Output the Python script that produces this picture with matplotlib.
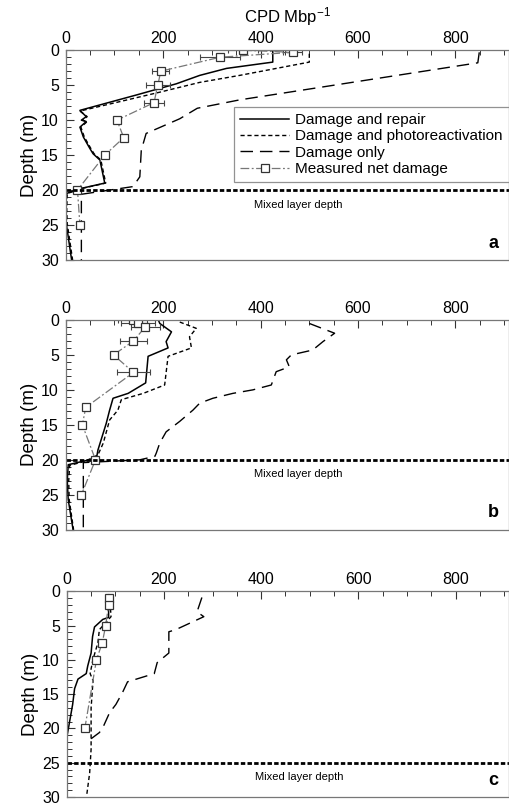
import numpy as np
import matplotlib.pyplot as plt
from matplotlib.ticker import MultipleLocator

plt.rcParams['font.family'] = ['Liberation Sans', 'DejaVu Sans']
plt.rcParams['mathtext.default'] = 'regular'

# ---- panel a ----
a_repair_depth = [0, 1.7, 2.6, 3.6, 4.8, 6.4, 8.6, 9.5, 10.0, 10.2, 11.0, 12.4, 14.0, 14.8, 15.7, 19.0, 19.8, 20.5, 22.8, 24.8, 30]
a_repair_cpd = [425, 425, 330, 275, 227, 145, 29, 42, 32, 42, 29, 36, 49, 56, 70, 80, 29, 1, 0, 1, 12]
a_photo_depth = [0.5, 1.7, 3.6, 4.6, 6.0, 8.7, 9.5, 10.0, 10.2, 11.0, 12.4, 14.0, 14.8, 15.7, 19.0, 19.8, 20.5, 22.8, 24.8, 30]
a_photo_cpd = [500, 500, 357, 275, 193, 29, 44, 34, 44, 31, 38, 51, 58, 72, 82, 31, 3, 2, 3, 14]
a_only_depth = [0.3, 1.8, 4.9, 7.1, 8.3, 9.8, 11.9, 14.3, 18.1, 19.5, 20.0, 20.6, 30]
a_only_cpd = [849, 846, 560, 357, 270, 234, 165, 155, 152, 138, 90, 32, 32]
a_meas_depth = [0, 0.3, 1, 3, 5, 7.5, 10, 12.5, 15, 20, 25]
a_meas_cpd = [364, 466, 317, 195, 189, 181, 105, 119, 80, 24, 29]
a_meas_err = [30, 20, 41, 17, 24, 20, 0, 0, 0, 0, 0]

# ---- panel b ----
b_repair_depth = [0, 0.5, 1.7, 3.1, 4.0, 5.2, 9.0, 10.5, 11.2, 12.9, 14.8, 18.6, 19.8, 20.2, 20.7, 23.0, 25.7, 30]
b_repair_cpd = [190, 193, 217, 206, 210, 169, 164, 128, 97, 90, 83, 66, 63, 36, 5, 3, 5, 15]
b_photo_depth = [0.3, 1.2, 2.4, 4.0, 5.2, 9.3, 10.5, 11.4, 12.9, 14.3, 17.6, 19.3, 20.2, 20.8, 23.0, 25.7, 30]
b_photo_cpd = [234, 268, 254, 258, 210, 203, 159, 114, 107, 90, 77, 66, 40, 8, 6, 7, 16]
b_only_depth = [0.5, 1.9, 3.1, 4.3, 5.0, 5.7, 6.7, 7.4, 9.3, 10.0, 10.5, 11.2, 11.9, 12.9, 14.5, 16.0, 17.6, 19.0, 19.5, 20.0, 20.4, 30]
b_only_cpd = [500, 552, 528, 507, 463, 453, 459, 432, 422, 384, 343, 302, 275, 261, 234, 206, 193, 186, 183, 152, 36, 36]
b_meas_depth = [0, 0.5, 1, 3, 5, 7.5, 12.5, 15, 20, 25]
b_meas_cpd = [137, 148, 163, 139, 98, 139, 41, 34, 61, 32]
b_meas_err = [30, 35, 30, 27, 0, 33, 0, 0, 0, 0]

# ---- panel c ----
c_repair_depth = [0.5, 3.8, 4.1, 5.2, 6.6, 9.0, 10.9, 12.0, 12.8, 14.2, 16.5, 18.9, 21.3]
c_repair_cpd = [86, 86, 74, 57, 53, 50, 43, 40, 23, 16, 12, 6, 0]
c_photo_depth = [0.5, 3.7, 5.6, 7.5, 9.9, 12.0, 13.0, 17.0, 23.0, 26.5, 29.7]
c_photo_cpd = [88, 91, 67, 64, 54, 48, 54, 50, 50, 47, 41]
c_only_depth = [0.9, 3.0, 3.7, 5.6, 5.9, 9.0, 10.4, 12.0, 13.2, 14.7, 16.5, 17.7, 19.9, 20.6, 21.5]
c_only_cpd = [278, 268, 282, 224, 210, 210, 186, 180, 125, 115, 101, 88, 74, 67, 50]
c_meas_depth = [1, 2, 5, 7.5, 10, 20]
c_meas_cpd = [86, 86, 80, 73, 61, 37]
c_meas_err = [0, 0, 0, 0, 0, 0]

mixed_layer = [20, 20, 25]
panel_letters = ['a', 'b', 'c']

panels = [
    (a_repair_depth, a_repair_cpd, a_photo_depth, a_photo_cpd, a_only_depth, a_only_cpd,
     a_meas_depth, a_meas_cpd, a_meas_err),
    (b_repair_depth, b_repair_cpd, b_photo_depth, b_photo_cpd, b_only_depth, b_only_cpd,
     b_meas_depth, b_meas_cpd, b_meas_err),
    (c_repair_depth, c_repair_cpd, c_photo_depth, c_photo_cpd, c_only_depth, c_only_cpd,
     c_meas_depth, c_meas_cpd, c_meas_err),
]

fig = plt.figure(figsize=(5.1, 8.1), dpi=100)
# axes boxes in figure fractions (left, bottom, width, height)
boxes = [(0.129, 0.679, 0.869, 0.259),
         (0.129, 0.346, 0.869, 0.259),
         (0.131, 0.016, 0.867, 0.254)]

for k, (box, data) in enumerate(zip(boxes, panels)):
    rd, rv, pd, pv, od, ov, md, mv, me = data
    ax = fig.add_axes(box)

    ax.plot(rv, rd, color='black', lw=1.1, label='Damage and repair')
    ax.plot(pv, pd, color='black', lw=1.0, ls=(0, (3, 2)), label='Damage and photoreactivation')
    ax.plot(ov, od, color='black', lw=1.0, ls=(0, (9, 5)), label='Damage only')

    err = np.array(me, dtype=float)
    ax.errorbar(mv, md, xerr=np.where(err > 0, err, np.nan), fmt='none',
                ecolor='#444444', elinewidth=0.8, capsize=2.5, capthick=0.8)
    ax.plot(mv, md, color='#777777', lw=0.9, ls=(0, (7, 2, 1.5, 2)),
            marker='s', markersize=6, markerfacecolor='white',
            markeredgecolor='#333333', markeredgewidth=0.9,
            label='Measured net damage')

    ml = mixed_layer[k]
    ax.axhline(ml, color='black', lw=2.0, ls=(0, (1.6, 0.8)))
    ax.text(478, ml + 2.1, 'Mixed layer depth', fontsize=8, ha='center', va='center')
    ax.text(878, 27.6, panel_letters[k], fontsize=13, fontweight='bold', ha='center', va='center')

    ax.set_xlim(0, 910)
    ax.set_ylim(30, 0)
    ax.xaxis.set_major_locator(MultipleLocator(200))
    ax.xaxis.set_minor_locator(MultipleLocator(50))
    ax.yaxis.set_major_locator(MultipleLocator(5))
    ax.yaxis.set_minor_locator(MultipleLocator(1))
    ax.tick_params(axis='x', which='both', direction='in', top=True, bottom=False,
                   labeltop=True, labelbottom=False, labelsize=11.5, pad=3)
    ax.tick_params(axis='y', which='both', direction='in', right=False, labelsize=11.5, pad=5)
    ax.tick_params(which='major', length=6, width=0.8, color='#333333')
    ax.tick_params(which='minor', length=3.5, width=0.7, color='#333333')
    for s in ax.spines.values():
        s.set_color('#777777')
        s.set_linewidth(0.9)

    ax.set_ylabel('Depth (m)', fontsize=13.5, labelpad=2)

    if k == 0:
        ax.xaxis.set_label_position('top')
        ax.set_xlabel('CPD Mbp$^{-1}$', fontsize=12, labelpad=6)
        leg = ax.legend(loc='upper right', bbox_to_anchor=(1.0, 0.73), borderaxespad=0,
                        fontsize=11, frameon=True, fancybox=False, numpoints=1,
                        handlelength=3.2, handletextpad=0.4, labelspacing=0.15,
                        borderpad=0.4)
        leg.get_frame().set_edgecolor('#777777')
        leg.get_frame().set_linewidth(0.9)

fig.savefig('out.png', dpi=100)
